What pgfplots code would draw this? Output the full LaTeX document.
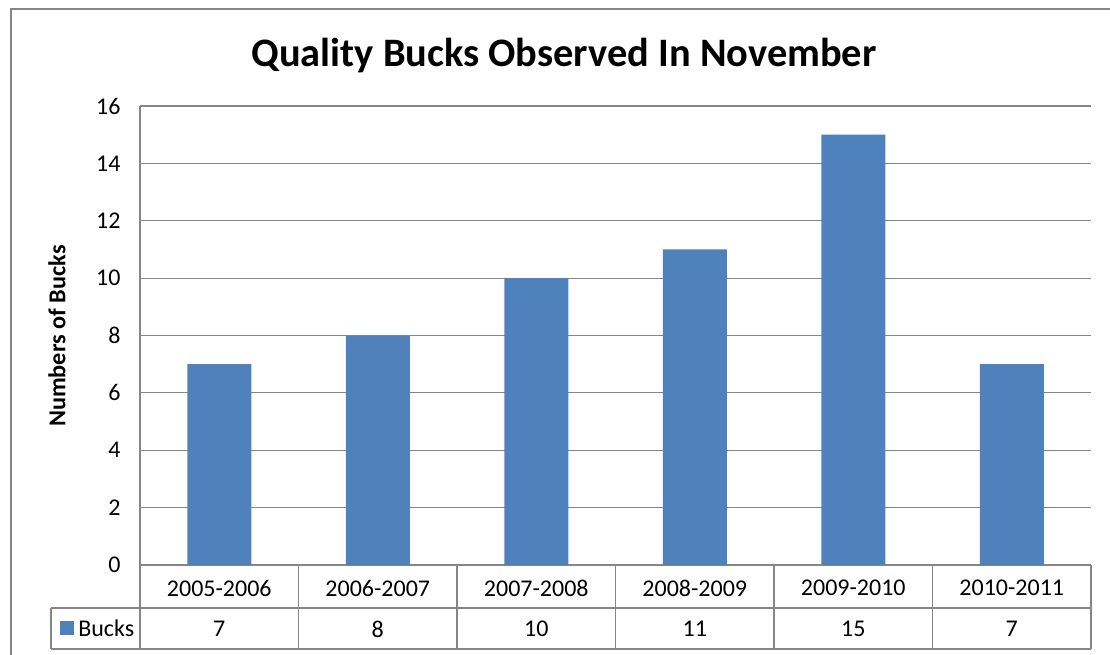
\documentclass[border=0pt]{standalone}
\usepackage{pgfplots}
\pgfplotsset{compat=1.18}
\usepackage{fontspec}
\setmainfont{Carlito}
\definecolor{barblue}{HTML}{4F81BD}
\definecolor{gridgray}{HTML}{868686}
\begin{document}
\begin{tikzpicture}[x=0.75pt,y=-0.75pt]
\path[use as bounding box] (0,0) rectangle (1110,654);
\draw[gridgray,line width=1.2pt] (11,9) rectangle (1120,670);
\node[font=\bfseries\fontsize{30.3}{34}\selectfont] at (564,55) {Quality Bucks Observed In November};
\begin{axis}[
  at={(140*0.75pt,-565*0.75pt)}, anchor=south west,
  scale only axis, width=951*0.75pt, height=459*0.75pt,
  xmin=-0.5, xmax=5.5, ymin=0, ymax=16,
  ytick={0,2,...,16},
  xtick={0,...,5},
  xticklabels={2005-2006,2006-2007,2007-2008,2008-2009,2009-2010,2010-2011},
  xtick style={draw=none}, ytick style={draw=none},
  ymajorgrids, grid style={gridgray,line width=0.8pt},
  axis x line=bottom, axis y line=left,
  axis line style={gridgray,line width=0.8pt,-},
  /pgf/number format/assume math mode=true,
  yticklabel style={font=\fontsize{18}{21}\selectfont, xshift=-9pt},
  xticklabel style={font=\fontsize{18}{21}\selectfont, yshift=-3.5pt},
  ybar, bar width=64*0.75pt,
]
\addplot[fill=barblue, draw=none] coordinates {(0,7) (1,8) (2,10) (3,11) (4,15) (5,7)};
\end{axis}
\node[rotate=90, font=\bfseries\fontsize{18.2}{21}\selectfont] at (57,336) {Numbers of Bucks};
% data table
\draw[gridgray,line width=0.8pt] (140,565) -- (140,649);
\draw[gridgray,line width=0.8pt] (51,608) -- (1091,608);
\draw[gridgray,line width=0.8pt] (51,649) -- (1091,649);
\draw[gridgray,line width=0.8pt] (51,608) -- (51,649);
\foreach \x in {298.5,457,615.5,774,932.5,1091} \draw[gridgray,line width=0.8pt] (\x,565) -- (\x,649);
\fill[barblue] (60,621) rectangle (74,635);
\node[font=\fontsize{18}{21}\selectfont, anchor=west, inner sep=0pt] at (78,628.5) {Bucks};
\foreach \v [count=\i from 0] in {7,8,10,11,15,7}
  \node[font=\fontsize{18}{21}\selectfont] at (219.25+158.5*\i,629) {\v};
\end{tikzpicture}
\end{document}
